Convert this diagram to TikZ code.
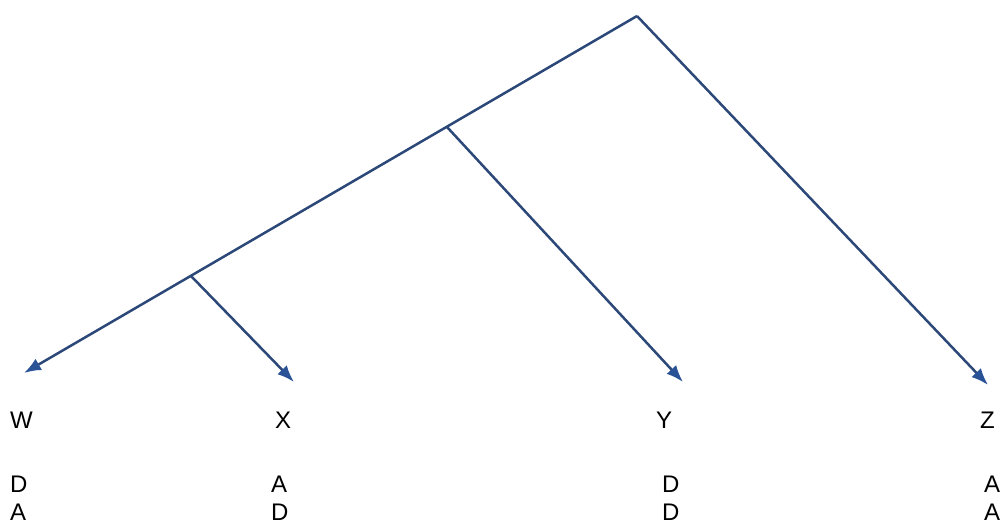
\documentclass[tikz,border=0pt]{standalone}
\usepackage{fontspec}
\setmainfont{Liberation Sans}
\usetikzlibrary{arrows.meta}
\definecolor{linec}{RGB}{44,72,120}
\definecolor{tipc}{RGB}{42,82,150}
\begin{document}
\begin{tikzpicture}[x=1pt,y=-1pt,
  edge/.style={draw=linec,line width=2.5pt},
  arr/.style={edge,-{Latex[length=17pt,width=13pt,color=tipc]}},
  lbl/.style={anchor=base west,inner sep=0pt,font=\fontsize{24}{28}\selectfont}]
\useasboundingbox (0,0) rectangle (1000,524);
\coordinate (root) at (637,16);
\coordinate (bx) at (191,276);
\coordinate (by) at (447,127);
\coordinate (w) at (24,373);
\coordinate (x) at (294,382);
\coordinate (y) at (683,382);
\coordinate (z) at (988,385);
\draw[arr] (root) -- (w);
\draw[arr] (root) -- (z);
\draw[arr] (by) -- (y);
\draw[arr] (bx) -- (x);
\node[lbl] (W) at (10,428) {W};
\node[lbl] (X) at (275,428) {X};
\node[lbl] (Y) at (656,428) {Y};
\node[lbl] (Z) at (980,428) {Z};
\node[lbl] (W1) at (10,492) {D};
\node[lbl] (W2) at (10,520) {A};
\node[lbl] (X1) at (271,492) {A};
\node[lbl] (X2) at (271,520) {D};
\node[lbl] (Y1) at (662,492) {D};
\node[lbl] (Y2) at (662,520) {D};
\node[lbl] (Z1) at (984,492) {A};
\node[lbl] (Z2) at (984,520) {A};
\end{tikzpicture}
\end{document}
